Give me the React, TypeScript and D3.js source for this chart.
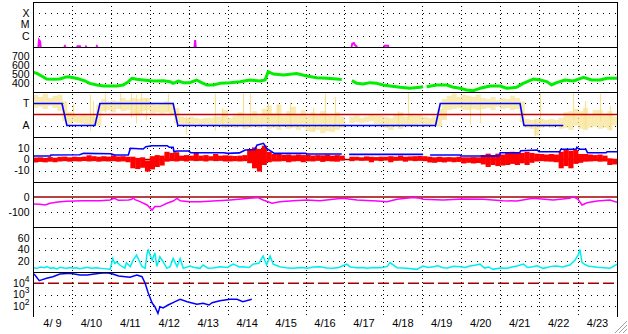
import React from 'react';
import * as d3 from 'd3';

type P = [number, number | null];

// ---------- labels ----------
const dayLabels = ['4/ 9','4/10','4/11','4/12','4/13','4/14','4/15','4/16','4/17','4/18','4/19','4/20','4/21','4/22','4/23'];
const xrayLabels = ['X', 'M', 'C'];
const xrayLevels = [1e-4, 1e-5, 1e-6];
const speedTicks = [700, 600, 500, 400];
const sectorLabels = ['T', 'A'];
const sectorLevels = [1, -1];
const bTicks = [10, 0, -10];
const dstTicks = [0, -100];
const densTicks = [60, 40, 20];
const fluxExps = [4, 3, 2];

// ---------- data (time in days from 4/9 00:00) ----------
const xrayFlux: P[] = [
  [0.14,1e-7],[0.155,4.2e-7],[0.18,3.2e-7],[0.2,1e-7],[0.21,null],
  [0.8,1e-7],[0.82,1.25e-7],[0.84,1e-7],[0.85,null],
  [1.13,1e-7],[1.14,1.15e-7],[1.21,1.15e-7],[1.22,1e-7],[1.23,null],
  [1.35,1e-7],[1.36,1.12e-7],[1.38,1e-7],[1.39,null],
  [1.63,1e-7],[1.64,1.2e-7],[1.66,1e-7],[1.67,null],
  [4.15,1e-7],[4.165,4.2e-7],[4.18,1e-7],[4.19,null],
  [8.18,1e-7],[8.2,2.0e-7],[8.24,2.3e-7],[8.27,1.5e-7],[8.3,1.2e-7],[8.33,1e-7],[8.34,null],
  [9.02,1e-7],[9.03,1.3e-7],[9.12,1.3e-7],[9.13,1e-7],
];

const solarWindSpeed: P[] = [
  [0,520],[0.1,507],[0.22,478],[0.35,444],[0.52,441],[0.69,444],[0.82,463],[0.91,470],[1.04,459],[1.21,441],
  [1.34,422],[1.46,396],[1.64,378],[1.81,367],[1.98,367],[2.15,367],[2.32,378],[2.45,415],[2.54,452],[2.66,441],
  [2.83,433],[3.01,426],[3.18,422],[3.35,426],[3.52,415],[3.6,396],[3.73,422],[3.86,404],[4.03,404],[4.2,433],
  [4.33,404],[4.46,378],[4.63,378],[4.8,396],[5.06,404],[5.32,415],[5.57,433],[5.83,422],[5.96,433],[6.04,526],
  [6.17,500],[6.43,489],[6.77,506],[7.03,478],[7.29,459],[7.54,452],[7.8,444],[7.93,440],[7.95,null],
  [8.19,426],[8.32,396],[8.48,389],[8.66,404],[8.83,396],[9.0,378],[9.17,367],[9.43,352],[9.68,341],[9.94,352],
  [10.02,359],[10.04,null],[10.11,359],[10.37,378],[10.63,378],[10.8,352],[10.97,341],[11.14,322],[11.31,315],
  [11.48,341],[11.74,367],[12.0,367],[12.17,341],[12.42,352],[12.59,396],[12.85,444],[13.02,433],[13.2,415],
  [13.32,378],[13.45,404],[13.67,433],[13.88,422],[14.14,463],[14.35,433],[14.56,433],[14.74,452],[15,452],
];

// sector: T = +1, A = -1
const sectorLine: P[] = [
  [0,1],[0.745,1],[0.87,-1],[1.59,-1],[1.72,1],[3.6,1],[3.72,-1],[10.34,-1],[10.46,1],[12.51,1],[12.61,-1],[13.62,-1],
];

// IMF angle, 3-hour bins: dense band low / high
const phiLo: (number | null)[] = [
  0.6,0.7,0.5,0.8,0.6,0.3,-0.6,-0.9,-0.7,-0.8,-0.9,-1.0,-1.0,-1.0,0.3,0.4,0.2,0.5,0.3,0.4,
  0.1,0.0,0.3,0.4,0.1,0.2,0.1,0.2,0.0,-0.8,-1.0,-0.9,-1.0,-0.9,-1.0,-0.9,-1.0,-1.0,-0.9,-1.2,
  -1.1,-1.2,-1.1,-1.3,-1.2,-1.1,-1.2,-1.0,-1.3,-1.2,-1.4,-1.1,-1.3,-1.2,-1.4,-1.2,-1.5,-1.6,-1.4,-1.7,
  -1.5,-1.6,-1.4,-1.2,null,-0.8,-0.7,-0.8,-0.7,-0.6,-0.9,-1.0,-1.2,-1.4,-1.1,-1.3,-1.0,-1.0,-1.1,-0.9,
  -1.1,-1.0,-0.9,-1.1,-0.5,0.4,0.5,0.6,0.4,0.4,0.5,0.4,0.5,0.6,0.4,0.7,0.5,0.6,0.4,0.5,
  -0.7,-1.2,-1.3,-1.9,-1.2,-1.1,-1.2,-1.0,-1.3,-1.2,-1.4,-1.0,-1.3,-1.4,-1.2,-1.1,-1.3,-1.2,-1.4,-1.0,
];
const phiHi: (number | null)[] = [
  1.8,1.6,1.9,1.5,1.7,1.8,1.2,0.2,0.0,-0.1,0.0,-0.1,-0.2,0.9,1.4,1.2,1.3,1.2,1.5,1.3,
  1.5,1.4,1.5,1.5,1.0,0.9,1.0,1.2,1.1,0.6,-0.2,-0.3,-0.2,-0.3,-0.4,-0.3,-0.3,-0.2,-0.2,0.4,
  -0.3,-0.1,0.2,-0.1,0.0,0.3,-0.1,0.5,0.8,0.1,0.9,-0.1,0.3,0.7,0.0,0.4,-0.1,0.2,0.0,0.3,
  0.0,-0.1,0.2,-0.2,null,-0.2,-0.1,-0.3,-0.2,0.0,-0.1,-0.1,-0.2,-0.3,0.0,0.2,-0.2,0.0,-0.1,0.0,
  -0.2,-0.3,-0.2,0.5,1.4,1.7,1.9,1.6,1.8,1.7,1.6,1.8,1.5,1.4,1.6,1.3,1.5,1.4,1.7,1.5,
  1.2,-0.4,-0.5,-0.4,-0.4,-0.5,-0.4,-0.5,-0.3,0.2,0.3,0.5,0.3,0.6,0.0,0.4,0.4,0.1,0.3,-0.2,
];
// isolated IMF angle spikes
const phiSpikeT = [1.03,1.46,1.54,1.85,2.23,2.52,2.65,2.77,2.9,3.47,3.93,4.67,4.85,5.39,5.57,6.04,6.29,6.6,7.19,7.5,7.76,9.38,9.63,11.23,11.48,12.9,13.02,13.87,14.18,14.56,14.82];
const phiSpikeLo = [-0.3,-1.5,-1.0,0.2,0.5,-0.3,-0.8,0.0,-0.5,0.3,-1.8,-1.5,-1.2,-1.0,-1.0,-0.8,-1.0,-1.2,-1.5,-1.2,-1.0,-1.2,-0.5,-0.9,-0.8,-1.95,-0.8,-0.5,-1.4,-0.6,-1.5];
const phiSpikeHi = [1.0,1.8,1.2,1.9,1.95,1.9,1.8,1.95,1.5,1.9,-0.2,1.9,0.6,1.9,1.9,1.0,0.9,1.1,0.6,1.9,1.6,0.3,1.95,1.2,1.0,-0.5,1.95,1.95,1.2,1.9,0.8];

// Bz, 3-hour bins: low / high (nT)
const bzLo: (number | null)[] = [
  -2.7,-2.2,-2.6,-2.0,-2.5,-1.8,-1.5,-2.0,-1.6,-1.8,-1.4,-1.8,-1.5,-2.0,-1.6,-1.8,-1.5,-2.0,-1.7,-2.5,
  -8.0,-8.7,-7.5,-11,-9,-6.8,-5.5,-2.0,-1.5,-1.8,-1.2,-1.8,-1.0,-1.5,-1.2,-1.8,-1.0,-1.5,-1.2,-1.8,
  -1.8,-1.5,-1.8,-1.5,-3.4,-8,-11,-5,-2.5,-1.8,-1.8,-1.5,-2.5,-1.8,-1.5,-2.5,-1.6,-1.8,-1.2,-2.2,
  -1.5,-1.8,-2.0,-1.0,null,-1.5,-0.8,-1.2,-1.0,-2.5,-1.0,-1.5,-0.8,-2.5,-1.2,-1.0,-2.0,-1.0,-1.5,-1.2,
  -1.5,-2.7,-3.0,-2.2,-2.7,-2.0,-2.5,-2.2,-3.6,-3.0,-3.6,-3.2,-4.5,-6.8,-5.0,-6.0,-5.5,-5.0,-4.0,-5.0,
  -3.5,-5.0,-3.0,-1.8,-1.5,-1.8,-2.0,-2.5,-8.0,-6.0,-8.0,-4.0,-3.0,-2.0,-1.8,-1.5,-2.0,-1.8,-5.0,-4.5,
];
const bzHi: (number | null)[] = [
  1.8,2.0,1.5,2.2,1.6,2.4,2.6,2.0,2.5,2.2,2.6,3.8,3.0,2.5,3.0,2.6,3.8,2.8,3.0,2.5,
  2.5,1.5,2.0,-1.0,3.0,4.0,3.5,7.0,6.0,6.6,3.5,4.0,3.5,6.6,3.5,4.0,3.0,5.0,3.5,3.8,
  3.5,3.2,3.5,4.0,9.6,11,9.6,12.6,7,5,5,4.2,4.5,3.8,4.5,4,4.2,3.6,4.0,3.8,
  4.5,3.5,4.0,3.5,null,2.5,2.5,2.0,2.8,2.5,2.2,2.6,2.5,3.0,2.5,3.5,2.5,2.8,3.0,3.2,
  3.0,2.5,2.0,2.5,2.0,2.2,2.0,2.5,2.0,2.0,2.2,2.0,4.0,5.3,4.0,5.3,4.5,6.0,7.0,6.5,
  6.0,7.0,6.0,5.3,5.0,4.5,5.0,4.5,7.0,8.6,8.0,8.6,5.0,5.0,4.5,4.0,4.5,3.5,1.0,0.5,
];

// Bt (nT)
const btTotal: P[] = [
  [0,3.2],[0.45,3.2],[0.46,4.1],[1.2,4.3],[1.3,5.6],[2.0,5.2],[2.1,4.1],[2.45,4.1],[2.5,10.2],[2.83,9.5],
  [2.9,11.6],[3.05,12.5],[3.45,12.5],[3.5,11.1],[3.6,11.1],[3.62,7.1],[3.7,7.7],[4.0,7.7],[4.05,6.2],[4.9,6.2],
  [5.0,5.6],[5.3,6.0],[5.45,8.6],[5.7,9.0],[5.75,13],[5.92,14.7],[6.0,10],[6.13,7.1],[6.2,5.6],[7.0,5.6],
  [7.05,5.0],[7.93,5.0],[7.95,null],[8.12,4.7],[10.02,4.7],[10.03,null],[10.2,4.1],[10.97,4.1],[10.99,3.2],
  [11.98,3.2],[12.0,6.2],[12.5,6.2],[12.53,8.0],[12.95,8.6],[13.0,7.1],[13.53,7.1],[13.56,9.3],[13.95,9.3],
  [13.97,11],[14.03,9.3],[14.2,9.3],[14.24,6.2],[14.72,6.2],[14.75,7.1],[15,7.1],
];

// Dst (nT)
const dstIndex: P[] = [
  [0,-47],[0.18,-49],[0.31,-53],[0.44,-42],[0.64,-33],[0.87,-29],[1.28,-25],[1.72,-25],[1.98,-20],[2.05,-12],
  [2.1,-9],[2.19,-22],[2.45,-20],[2.54,-15],[2.57,-4],[2.62,-18],[2.75,-31],[2.93,-53],[3.06,-87],[3.13,-64],
  [3.26,-64],[3.44,-42],[3.6,-27],[3.7,-9],[3.78,-25],[4.03,-31],[4.29,-31],[4.62,-27],[5.06,-20],[5.57,-9],
  [5.78,-4],[5.91,-20],[6.14,-42],[6.34,-31],[6.68,-25],[7.04,-20],[7.37,-25],[7.71,-15],[7.96,-9],[8.32,-20],
  [8.84,-27],[9.09,-31],[9.35,-15],[9.76,-4],[9.94,-9],[10.02,-15],[10.53,-20],[11.05,-13],[11.56,-15],
  [12.07,-25],[12.43,-27],[12.84,-9],[13.36,-20],[13.79,-9],[13.87,2],[14.0,-15],[14.1,-53],[14.23,-38],
  [14.49,-27],[14.82,-20],[15,-35],
];

// proton density (p/cc)
const protonDensity: P[] = [
  [0,8.3],[0.05,7],[0.1,6.5],[0.2,9],[0.3,7.5],[0.36,9.5],[0.45,6.5],[0.52,7.5],[0.62,5.3],[0.69,8.5],
  [0.8,7],[0.87,6.5],[0.95,8],[1.03,6.5],[1.12,7.7],[1.2,6],[1.39,8.3],[1.5,6.5],[1.62,7.7],[1.72,6.5],
  [1.85,6],[1.98,4.7],[2.05,24],[2.1,15],[2.15,18],[2.23,12.4],[2.36,7],[2.4,16.6],[2.5,9.5],[2.57,21],
  [2.66,30],[2.72,21],[2.8,10],[2.88,6.5],[2.93,33],[2.96,39],[3.06,21],[3.13,34],[3.18,10],[3.26,27],
  [3.34,18.4],[3.44,6.5],[3.52,9.5],[3.6,24],[3.7,9.5],[3.78,24],[3.86,6.5],[4.03,10.7],[4.15,8],[4.29,6.5],
  [4.37,12.4],[4.5,6.5],[4.62,7],[4.8,9.5],[5.0,8],[5.06,10.7],[5.14,14],[5.3,9],[5.39,9.5],[5.55,8],
  [5.65,14],[5.8,15.4],[5.91,28.4],[6.0,12.4],[6.09,28.4],[6.17,14],[6.34,9.5],[6.5,7.5],[6.68,6.5],[6.9,8],
  [7.04,6.5],[7.2,9],[7.37,9.5],[7.55,7],[7.71,6.5],[7.85,8],[8.06,14],[8.15,9],[8.32,7.7],[8.5,8],
  [8.58,6.5],[8.75,8],[8.93,7.7],[9.1,10],[9.17,16.6],[9.35,7.7],[9.6,6.5],[9.86,4.7],[10.02,10.7],[10.15,8],
  [10.28,9.5],[10.4,11],[10.53,7.7],[10.65,7],[10.8,10],[10.97,9.5],[11.1,8],[11.22,10.7],[11.35,12],[11.48,14],
  [11.6,7],[11.7,9],[11.82,4.7],[12.0,7],[12.17,6.5],[12.3,9],[12.43,10.7],[12.6,14],[12.7,8],[12.84,9.5],
  [12.95,11],[13.1,6.5],[13.2,8],[13.3,10],[13.45,10.7],[13.6,9],[13.79,12.4],[13.92,21],[14.0,30],[14.05,40],
  [14.1,17],[14.16,14],[14.25,10.7],[14.49,8.5],[14.82,6.5],[14.96,12.4],[15,14],
];

// particle flux (log)
const particleFlux: P[] = [
  [0,7.6e4],[0.05,5.4e4],[0.16,1.7e4],[0.22,2.0e4],[0.35,2.8e4],[0.51,3.8e4],[0.69,6.6e4],[0.95,7.6e4],
  [1.21,5.4e4],[1.39,5.4e4],[1.72,7.6e4],[1.9,8.7e4],[2.05,6.6e4],[2.2,4.5e4],[2.49,3.4e4],[2.67,5.4e4],
  [2.8,3.8e4],[2.88,1.0e4],[2.96,1.35e3],[3.06,175],[3.13,83],[3.21,21],[3.26,83],[3.34,63],[3.47,117],
  [3.65,230],[3.78,370],[3.96,230],[4.21,135],[4.37,165],[4.52,117],[4.6,186],[4.8,283],[5.06,372],
  [5.24,372],[5.39,230],[5.62,372],
];
const fluxThreshold = 1e4;

// ---------- layout ----------
const W = 628, H = 334;
const X0 = 33, X1 = 617;
const PT = 2, PH = 45, NP = 7;
const BIN = 0.125;
const FONT = "'Liberation Sans', Arial, Helvetica, sans-serif";
const LFS = 10.5;

export default function App() {
  const top = (i: number) => PT + PH * i;
  const x = d3.scaleLinear().domain([0, 15]).range([X0, X1]);
  const yX = d3.scaleLog().domain([1e-7, 1e-3]).range([top(1), top(0)]);
  const yV = d3.scaleLinear().domain([300, 800]).range([top(2), top(1)]);
  const yS = d3.scaleLinear().domain([-2.045, 2.045]).range([top(3), top(2)]);
  const yB = d3.scaleLinear().domain([-20.45, 20.45]).range([top(4), top(3)]);
  const yD = d3.scaleLinear().domain([-200, 100]).range([top(5), top(4)]);
  const yN = d3.scaleLinear().domain([0, 80]).range([top(6), top(5)]);
  const yF = d3.scaleLog().domain([1e1, 1e5]).range([top(7), top(6)]);

  const mkLine = (y: (v: number) => number) =>
    d3.line<P>().defined(d => d[1] != null).x(d => x(d[0])).y(d => y(d[1] as number));

  const r5 = (v: number) => Math.round(v) + 0.5;

  const hDot = (y: number, key: string) => (
    <line key={key} x1={X0} x2={X1} y1={r5(y)} y2={r5(y)} stroke="#000" strokeWidth={1}
      strokeDasharray="1,5" shapeRendering="crispEdges" />
  );
  const leftLabel = (y: number, text: React.ReactNode, key: string) => (
    <text key={key} x={29.5} y={y} dy="0.36em" textAnchor="end" fontSize={LFS} fontFamily={FONT} fill="#000">{text}</text>
  );

  const binRects = (lo: (number | null)[], hi: (number | null)[], y: any, fill: string, op: number, key: string) =>
    lo.map((l, k) => {
      const h = hi[k];
      if (l == null || h == null) return null;
      const xa = x(k * BIN), xb = x((k + 1) * BIN);
      const ya = y(h), yb = y(l);
      return <rect key={key + k} x={xa} y={ya} width={xb - xa + 0.3} height={Math.max(1, yb - ya)} fill={fill} fillOpacity={op} />;
    });

  const days = d3.range(1, 15);

  return (
    <svg width={W} height={H} style={{ position: 'absolute', left: 0, top: 0, background: '#fff' }}>
      <defs>
        {d3.range(NP).map(i => (
          <clipPath id={'pc' + i} key={i}>
            <rect x={X0} y={top(i)} width={X1 - X0} height={PH} />
          </clipPath>
        ))}
      </defs>
      <rect x={0} y={0} width={W} height={H} fill="#fff" />

      {/* vertical day grid */}
      {days.map(d => (
        <line key={'vd' + d} x1={r5(x(d))} x2={r5(x(d))} y1={top(0)} y2={top(NP)} stroke="#000"
          strokeDasharray="1,3" shapeRendering="crispEdges" />
      ))}

      {/* horizontal grids + labels */}
      {xrayLevels.map((v, i) => hDot(yX(v), 'gx' + i))}
      {xrayLabels.map((t, i) => leftLabel(yX(xrayLevels[i]), t, 'lx' + i))}
      {speedTicks.map((v, i) => hDot(yV(v), 'gv' + i))}
      {speedTicks.map((v, i) => leftLabel(yV(v), String(v), 'lv' + i))}
      {sectorLevels.map((v, i) => hDot(yS(v), 'gs' + i))}
      {sectorLabels.map((t, i) => leftLabel(yS(sectorLevels[i]), t, 'ls' + i))}
      {bTicks.filter(v => v !== 0).map((v, i) => hDot(yB(v), 'gb' + i))}
      {bTicks.map((v, i) => leftLabel(yB(v), String(v), 'lb' + i))}
      {dstTicks.filter(v => v !== 0).map((v, i) => hDot(yD(v), 'gd' + i))}
      {dstTicks.map((v, i) => leftLabel(yD(v), String(v), 'ld' + i))}
      {densTicks.map((v, i) => hDot(yN(v), 'gn' + i))}
      {densTicks.map((v, i) => leftLabel(yN(v), String(v), 'ln' + i))}
      {fluxExps.filter(e => Math.pow(10, e) !== fluxThreshold).map((e, i) => hDot(yF(Math.pow(10, e)), 'gf' + i))}
      {fluxExps.map((e, i) => (
        <text key={'lf' + i} x={29.5} y={yF(Math.pow(10, e))} dy="0.36em" textAnchor="end" fontSize={LFS} fontFamily={FONT}>
          10<tspan fontSize={8.5} dy="-5">{e}</tspan>
        </text>
      ))}

      {/* panel 0: X-ray */}
      <g clipPath="url(#pc0)">
        <path d={mkLine(yX)(xrayFlux) || ''} fill="none" stroke="#ff00ff" strokeWidth={2} />
      </g>

      {/* panel 1: speed */}
      <g clipPath="url(#pc1)">
        <path d={mkLine(yV)(solarWindSpeed) || ''} fill="none" stroke="#00ee00" strokeWidth={3} strokeLinejoin="round" />
      </g>

      {/* panel 2: sector / angle */}
      <g clipPath="url(#pc2)">
        {binRects(phiLo, phiHi, yS, '#f6e290', 0.7, 'ph')}
        {phiSpikeT.map((t, i) => (
          <line key={'sp' + i} x1={r5(x(t))} x2={r5(x(t))} y1={yS(phiSpikeHi[i])} y2={yS(phiSpikeLo[i])}
            stroke="#f6e290" strokeWidth={1.2} />
        ))}
        <line x1={X0} x2={X1} y1={yS(0)} y2={yS(0)} stroke="#cc0000" strokeWidth={1.5} />
        <path d={mkLine(yS)(sectorLine) || ''} fill="none" stroke="#0000ff" strokeWidth={1.6} />
      </g>

      {/* panel 3: Bz / Bt */}
      <g clipPath="url(#pc3)">
        <line x1={X0} x2={X1} y1={yB(0)} y2={yB(0)} stroke="#a00000" strokeWidth={1.5} />
        {binRects(bzLo, bzHi, yB, '#ff0000', 1, 'bz')}
        <path d={mkLine(yB)(btTotal) || ''} fill="none" stroke="#0000ff" strokeWidth={1.6} />
      </g>

      {/* panel 4: Dst */}
      <g clipPath="url(#pc4)">
        <line x1={X0} x2={X1} y1={yD(0)} y2={yD(0)} stroke="#a00000" strokeWidth={1.5} />
        <path d={mkLine(yD)(dstIndex) || ''} fill="none" stroke="#ff00ff" strokeWidth={1.5} />
      </g>

      {/* panel 5: density */}
      <g clipPath="url(#pc5)">
        <path d={mkLine(yN)(protonDensity) || ''} fill="none" stroke="#00eeee" strokeWidth={1.5} />
      </g>

      {/* panel 6: flux */}
      <g clipPath="url(#pc6)">
        <line x1={X0} x2={X1} y1={yF(fluxThreshold)} y2={yF(fluxThreshold)} stroke="#a00000" strokeWidth={1.3}
          strokeDasharray="11,4" />
        <path d={mkLine(yF)(particleFlux) || ''} fill="none" stroke="#0000ff" strokeWidth={1.5} />
      </g>

      {/* frames */}
      {d3.range(NP).map(i => (
        <line key={'sep' + i} x1={X0} x2={X1} y1={r5(top(i))} y2={r5(top(i))} stroke="#000" strokeWidth={1.3} shapeRendering="crispEdges" />
      ))}
      <line x1={r5(X0)} x2={r5(X0)} y1={top(0)} y2={top(NP)} stroke="#000" strokeWidth={1.3} shapeRendering="crispEdges" />
      <line x1={r5(X1)} x2={r5(X1)} y1={top(0)} y2={top(NP)} stroke="#000" strokeWidth={1.3} shapeRendering="crispEdges" />

      {/* day labels */}
      {dayLabels.map((lab, i) => (
        <text key={'dl' + i} x={x(i + 0.5)} y={327} textAnchor="middle" fontSize={11} fontFamily={FONT}
          style={{ whiteSpace: 'pre' }}>{lab}</text>
      ))}

      {/* resize grip */}
      {[0, 4, 8].map(o => (
        <line key={'gr' + o} x1={627} y1={321 + o} x2={615 + o} y2={333} stroke="#a0a0a0" strokeWidth={1} />
      ))}
    </svg>
  );
}
